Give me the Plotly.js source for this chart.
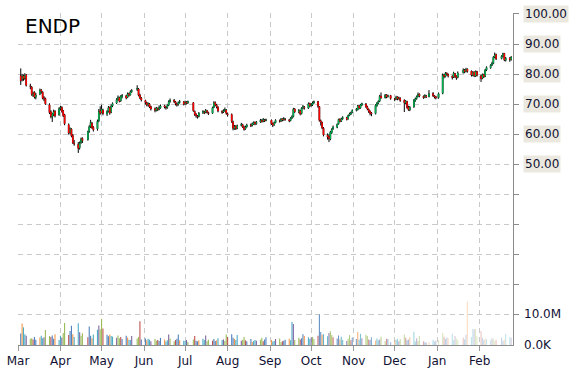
<!DOCTYPE html>
<html><head><meta charset="utf-8">
<script src="https://cdn.plot.ly/plotly-3.0.1.min.js"></script>
<style>html,body{margin:0;padding:0;background:#fff}#chart{width:570px;height:370px}</style>
</head><body><div id="chart"></div>
<script>
const symbol = 'ENDP';
const monthStarts = ['2014-03-01','2014-04-01','2014-05-01','2014-06-01','2014-07-01','2014-08-01','2014-09-01','2014-10-01','2014-11-01','2014-12-01','2015-01-01','2015-02-01'];
const monthLabels = ['Mar','Apr','May','Jun','Jul','Aug','Sep','Oct','Nov','Dec','Jan','Feb'];
const firstDay = '2014-03-03';
const lastDay = '2015-02-24';
const holidays = ['2014-04-18','2014-05-26','2014-07-04','2014-09-01','2014-11-27','2014-12-25','2015-01-01','2015-01-19','2015-02-16'];

const openPx = [
79.5,78.2,79.4,78.6,79.8,76.1,75.7,73.0,73.9,72.3,73.4,74.8,74.0,72.1,71.9,69.8,67.5,65.8,66.6,67.7,66.4,
68.6,69.0,67.8,66.5,63.2,60.6,61.7,59.6,57.0,56.6,55.5,57.3,58.6,58.2,60.9,62.6,63.7,62.3,61.8,64.5,67.8,
67.2,68.1,66.7,67.6,68.9,67.3,69.5,70.4,71.6,72.2,71.1,72.5,72.8,72.3,73.5,73.1,74.2,74.9,75.1,73.1,72.0,
71.2,70.5,69.7,70.1,69.2,68.5,67.9,68.6,68.3,68.8,69.5,69.0,68.9,69.7,70.9,71.4,70.8,70.1,69.9,70.6,70.8,
70.1,70.7,70.4,70.5,67.6,66.7,66.0,65.9,67.1,67.5,67.3,67.8,67.2,67.0,69.0,70.5,69.7,69.0,67.6,67.4,67.9,68.1,
66.8,66.6,64.1,61.9,62.7,62.0,62.9,63.2,62.4,61.8,62.5,63.2,62.9,63.4,64.0,63.5,64.1,64.7,64.3,64.8,64.6,
64.7,63.6,63.1,63.9,64.5,64.4,65.1,64.8,65.1,64.8,64.6,65.4,65.9,68.4,67.4,67.8,66.9,68.7,69.1,68.7,70.2,
69.6,69.8,70.5,70.9,69.2,64.5,63.9,62.0,59.7,59.3,58.4,60.5,61.8,62.3,63.5,65.0,64.4,65.2,65.5,65.1,66.3,66.7,67.3,
68.0,68.2,69.5,68.8,69.7,70.1,69.2,68.3,67.7,67.1,66.9,69.5,70.4,71.0,72.7,72.2,73.1,72.5,72.9,
71.8,71.7,72.4,71.9,72.0,71.3,70.4,70.9,69.0,68.1,69.1,71.2,71.9,72.6,73.3,72.6,72.3,72.8,72.5,73.6,72.7,72.5,
72.2,73.6,79.7,79.2,80.3,79.9,79.3,79.0,80.2,79.3,78.9,80.5,81.4,80.9,81.7,81.0,79.6,80.7,79.4,80.9,
79.5,78.6,79.9,79.2,81.4,82.1,83.0,83.6,85.7,86.5,85.2,86.0,86.9,84.6,85.4,84.8];

const highPx = [
81.9,80.1,79.9,80.3,80.0,76.8,76.0,74.2,74.3,73.8,75.2,75.0,74.3,72.7,72.2,70.3,68.0,67.1,68.2,68.0,69.0,
69.4,69.3,68.1,66.8,63.6,62.3,62.0,60.1,58.1,57.4,57.6,58.9,59.0,61.2,63.0,64.8,64.1,62.7,64.9,68.4,69.3,
69.8,68.5,68.0,69.4,69.2,69.9,70.6,72.0,72.9,72.5,73.0,73.4,73.1,73.9,73.8,74.6,75.0,76.3,75.4,73.5,72.4,
71.5,70.8,70.6,70.4,69.5,68.9,69.1,68.9,69.6,69.9,69.8,69.4,70.0,71.3,71.9,71.7,71.1,70.5,70.9,71.4,71.0,
71.2,71.0,71.2,70.7,67.9,67.0,66.4,67.4,68.0,67.8,68.4,68.1,67.5,69.2,71.0,70.9,70.1,69.3,68.0,68.3,68.9,68.4,
67.2,66.9,64.5,63.1,63.0,63.2,63.8,63.5,62.8,62.9,63.5,63.6,63.9,64.3,64.2,64.4,65.1,65.0,65.4,65.1,65.2,
64.9,63.9,64.2,65.0,64.9,65.4,65.3,65.7,65.4,65.1,65.7,66.3,68.8,68.7,68.4,68.1,69.0,69.8,69.4,70.6,70.5,
70.4,70.9,71.2,71.1,69.4,64.9,64.2,62.4,60.3,60.0,61.1,62.0,62.9,63.6,65.2,65.3,65.5,66.0,65.8,66.5,67.2,67.5,68.3,
68.7,69.8,69.8,70.1,70.5,70.4,69.5,68.6,67.9,67.4,70.0,70.7,71.3,73.1,73.9,73.4,73.3,73.2,73.1,
72.0,72.8,72.6,72.5,72.3,71.6,71.4,71.1,69.5,69.4,71.7,72.2,72.9,73.9,73.6,72.9,73.3,73.1,74.7,74.0,73.0,72.8,
73.9,80.2,80.1,80.7,80.6,80.2,79.6,80.8,80.4,79.6,80.9,81.9,81.7,82.1,81.9,81.2,81.0,80.9,81.2,81.1,
79.8,80.2,80.1,81.7,82.6,83.3,84.1,86.0,87.2,86.8,86.3,87.1,87.0,85.7,85.6,86.0];

const lowPx = [
76.4,77.6,77.8,78.1,75.9,75.0,72.8,72.4,71.9,71.6,73.0,73.5,71.6,71.0,69.8,66.7,65.3,64.1,66.0,65.6,66.2,
67.9,67.2,65.7,63.0,59.9,60.0,59.0,56.8,56.2,53.8,54.9,56.8,57.1,57.9,60.5,62.1,61.8,60.9,61.2,64.0,66.5,
67.0,66.3,66.1,67.2,66.5,67.0,69.0,70.1,71.2,70.6,70.8,72.0,71.6,72.0,72.5,72.9,73.8,74.4,72.6,71.7,70.9,
69.9,69.3,69.2,68.7,67.9,67.3,67.6,67.7,68.0,68.5,68.6,68.2,68.5,69.4,70.5,70.4,69.6,69.2,69.5,70.2,69.6,
69.8,69.9,70.1,67.5,66.1,65.5,65.2,65.6,66.8,66.7,67.0,66.9,66.4,66.8,68.7,69.4,68.6,67.3,66.8,67.1,67.5,66.5,
65.9,63.8,61.3,61.5,61.4,61.7,62.6,62.1,61.2,61.5,62.2,62.4,62.6,63.1,63.0,63.2,63.8,63.9,64.0,64.1,64.3,
63.1,62.4,62.8,63.6,63.9,64.1,64.3,64.5,64.5,64.0,64.3,65.1,65.6,67.1,67.0,66.3,66.6,68.3,68.2,68.4,69.0,
69.2,69.4,70.1,68.8,64.2,62.9,61.7,59.3,58.2,57.4,58.0,60.1,61.5,62.0,63.2,64.0,64.1,64.8,64.6,64.9,66.0,66.4,67.0,
67.6,67.9,68.3,68.5,69.4,68.8,68.0,67.1,66.3,66.0,66.6,69.2,70.0,70.7,71.8,71.9,72.0,72.2,71.5,
71.0,71.4,71.3,71.5,70.8,67.4,70.0,68.5,67.8,67.7,68.8,70.8,71.5,72.3,72.3,71.8,72.0,72.1,72.3,72.4,71.9,71.6,
71.8,73.3,78.6,78.9,79.5,78.9,78.2,78.7,78.7,78.1,78.6,80.2,80.3,80.6,80.5,79.2,79.3,79.0,79.1,79.2,
77.4,78.3,78.7,79.0,81.0,81.8,82.7,83.3,85.3,84.7,84.9,85.6,84.3,84.2,84.1,84.5];

const closePx = [
77.8,79.2,78.5,79.6,76.3,75.9,73.2,73.6,72.4,73.1,74.6,74.2,72.0,71.8,70.1,67.2,65.9,66.8,67.5,66.1,68.5,
68.9,67.6,66.2,63.5,60.4,61.8,59.5,57.2,56.8,55.3,57.0,58.4,57.9,60.8,62.5,63.9,62.2,61.5,64.3,67.6,67.0,
68.3,66.9,67.5,68.8,67.1,69.4,70.2,71.5,72.3,71.0,72.6,72.9,72.1,73.4,73.0,74.1,74.6,75.2,73.0,72.1,71.4,
70.6,69.8,70.2,69.1,68.4,68.0,68.7,68.2,68.9,69.4,69.1,68.8,69.6,70.8,71.3,70.9,70.2,69.8,70.5,70.9,70.0,
70.6,70.3,70.9,67.8,66.6,66.2,65.8,67.0,67.6,67.2,67.9,67.3,66.9,68.8,70.4,69.8,69.1,67.7,67.3,67.8,68.2,67.0,
66.5,64.2,62.0,62.6,61.9,62.8,63.3,62.5,61.7,62.4,63.1,62.8,63.5,63.9,63.4,64.0,64.6,64.2,64.9,64.5,64.8,
63.5,63.0,63.8,64.6,64.3,65.0,64.7,65.2,64.9,64.5,65.3,65.8,68.3,67.5,67.9,66.8,68.6,69.2,68.8,70.1,69.5,
69.9,70.4,70.8,69.3,64.6,64.0,62.1,59.8,59.1,58.5,60.7,61.6,62.4,63.3,64.9,64.3,65.1,65.6,65.0,66.2,66.8,67.1,67.9,
68.3,69.4,68.7,69.8,70.2,69.1,68.4,67.6,67.0,66.8,69.6,70.3,70.9,72.6,72.1,73.0,72.4,72.8,71.9,
71.6,72.3,71.8,72.1,71.2,70.5,71.0,68.9,68.2,69.0,71.3,71.8,72.5,73.2,72.7,72.2,72.9,72.4,73.5,72.8,72.4,72.1,
73.5,79.6,79.1,80.2,80.0,79.4,78.9,80.3,79.2,78.8,80.4,81.3,80.8,81.6,80.9,79.7,80.6,79.5,80.8,79.6,
78.5,79.8,79.1,81.3,82.2,82.9,83.5,85.6,86.4,85.1,85.9,86.8,84.7,85.3,84.9,85.6];

// volume in millions of shares
const volumeM = [
3.7,6.9,5.7,3.5,3.0,2.0,2.2,1.8,2.6,1.7,2.4,3.0,2.2,2.5,4.8,2.9,2.6,3.1,2.0,3.5,1.6,
3.0,2.4,3.9,7.1,3.2,4.5,6.2,3.5,2.6,7.0,4.1,3.0,3.8,2.5,6.0,3.0,2.2,3.4,4.9,6.3,5.1,
8.5,5.3,3.3,2.8,3.4,2.9,2.7,2.3,3.1,2.2,2.6,1.9,3.0,2.4,1.7,1.6,2.9,2.1,2.6,7.7,1.8,
2.1,1.5,2.0,1.7,1.2,1.9,1.4,1.6,1.3,2.3,1.8,1.1,1.5,3.4,2.1,1.2,1.6,2.0,3.4,1.5,1.4,
1.3,1.6,1.0,1.8,2.9,1.4,1.2,1.5,2.0,1.6,3.1,1.2,1.7,1.4,1.9,1.3,1.5,2.2,1.6,1.8,1.3,3.4,
2.6,3.5,2.3,1.9,1.6,3.2,1.4,1.7,2.6,1.5,1.2,1.9,1.0,1.3,1.6,1.4,1.7,2.3,1.2,1.8,2.5,
1.6,1.1,1.3,1.9,2.1,0.9,1.2,1.4,1.7,2.0,1.5,7.4,6.8,1.6,2.3,1.8,2.2,3.5,2.9,2.5,1.9,
2.4,2.6,1.9,3.0,9.8,4.2,3.3,3.5,2.8,3.9,4.4,3.2,2.5,2.1,3.1,1.8,2.7,1.6,1.3,2.0,3.2,1.5,2.4,
1.9,4.2,1.7,3.6,2.2,3.3,2.9,1.8,1.6,2.5,1.4,2.1,1.5,1.8,2.7,1.3,2.0,1.9,0.9,
1.5,1.7,2.0,1.2,1.9,3.4,2.3,1.5,1.8,2.6,4.3,1.1,2.2,1.3,2.9,1.2,1.0,0.7,0.8,1.6,1.1,1.4,
1.5,3.9,2.7,1.9,2.4,2.2,3.6,1.6,2.9,2.0,1.7,2.4,1.8,3.3,14.0,2.6,5.2,5.1,5.2,2.8,
4.5,2.3,1.6,2.1,1.9,1.5,2.2,2.0,1.3,1.7,2.4,1.4,1.8,3.6,2.6,2.3];

const priceTicks = [0,10,20,30,40,50,60,70,80,90,100];
const priceLabelVals = [50,60,70,80,90,100];
const priceLabelText = ['50.00','60.00','70.00','80.00','90.00','100.00'];
const volTickVals = [0,10];
const volTickText = ['0.0K','10.0M'];

// trading calendar
function tradingDays(start, end, skip){
  const out = [];
  const d = new Date(start + 'T00:00:00Z');
  const e = new Date(end + 'T00:00:00Z');
  while (d <= e){
    const s = d.toISOString().slice(0,10);
    const wd = d.getUTCDay();
    if (wd !== 0 && wd !== 6 && skip.indexOf(s) < 0) out.push(s);
    d.setUTCDate(d.getUTCDate()+1);
  }
  return out;
}
const dates = tradingDays(firstDay, lastDay, holidays);
if (dates.length !== closePx.length) console.error('length mismatch', dates.length, closePx.length);

const volPalette = [[79,129,189],[192,80,77],[155,187,89],[128,100,162],[75,172,198],[247,150,70]];
const volColors = volumeM.map((v,i)=>{
  const c = volPalette[(i*5+Math.floor(i/3))%6];
  const a = i < 140 ? 1 : Math.max(0.33, 1 - 0.7*(i-140)/85);
  return 'rgba('+c[0]+','+c[1]+','+c[2]+','+a.toFixed(2)+')';
});

// body segments
const upX=[], upY=[], dnX=[], dnY=[];
dates.forEach((d,i)=>{
  const o=openPx[i], c=closePx[i];
  if (c >= o){ upX.push(d,d,null); upY.push(o,c,null); }
  else { dnX.push(d,d,null); dnY.push(o,c,null); }
});

const font = {family:'DejaVu Sans, Verdana, sans-serif', size:12, color:'#111133'};
const gridCol = '#c9c9c9';

const traces = [
  {type:'bar', x:dates, y:volumeM, yaxis:'y2', marker:{color:volColors, line:{width:0}}, width:0.8*86400000, hoverinfo:'skip'},
  {type:'candlestick', x:dates, open:openPx, high:highPx, low:lowPx, close:closePx,
   increasing:{line:{color:'#000', width:1}, fillcolor:'#000'},
   decreasing:{line:{color:'#000', width:1}, fillcolor:'#000'},
   whiskerwidth:0, hoverinfo:'skip', showlegend:false},
  {type:'scatter', mode:'lines', x:upX, y:upY, line:{color:'#00b050', width:1.5}, hoverinfo:'skip', connectgaps:false},
  {type:'scatter', mode:'lines', x:dnX, y:dnY, line:{color:'#ff0000', width:1.5}, hoverinfo:'skip', connectgaps:false}
];

const annotations = priceLabelVals.map((v,i)=>({
  xref:'paper', x:1, xanchor:'left', xshift:10,
  yref:'y', y:v, yanchor:'middle',
  text:priceLabelText[i], showarrow:false,
  bgcolor:'#ebe9df', borderpad:1, font:font
}));

const layout = {
  width:570, height:370,
  paper_bgcolor:'#fff', plot_bgcolor:'#fff',
  margin:{l:18, r:57, t:13, b:25},
  showlegend:false,
  barmode:'overlay',
  title:{text:symbol, font:{family:'DejaVu Sans, Verdana, sans-serif', size:20, color:'#000'},
         xref:'container', x:25/570, xanchor:'left', yref:'container', y:1-19/370, yanchor:'top'},
  xaxis:{type:'date', range:['2014-03-01','2015-02-25 08:00'],
         tickmode:'array', tickvals:monthStarts, ticktext:monthLabels,
         showgrid:true, gridcolor:gridCol, griddash:'5px,4px', gridwidth:1,
         ticks:'outside', ticklen:5, tickcolor:'#9a9a9a',
         showline:true, linecolor:'#8c8c8c', linewidth:1,
         tickfont:font, zeroline:false, rangeslider:{visible:false}},
  yaxis:{range:[-10.08, 100.33], tickmode:'array', tickvals:priceTicks,
         showticklabels:false, side:'right',
         showgrid:true, gridcolor:gridCol, griddash:'5px,4px', gridwidth:1,
         ticks:'outside', ticklen:5, tickcolor:'#8c8c8c',
         showline:true, linecolor:'#8c8c8c', linewidth:1, zeroline:false},
  yaxis2:{overlaying:'y', side:'right', range:[0, 107.1],
          tickmode:'array', tickvals:volTickVals, ticktext:volTickText,
          showgrid:false, zeroline:false, showline:false, ticks:'',
          ticklabelstandoff:10, tickfont:font},
  annotations:annotations
};

Plotly.newPlot('chart', traces, layout, {staticPlot:true, displayModeBar:false});
</script>
</body></html>
